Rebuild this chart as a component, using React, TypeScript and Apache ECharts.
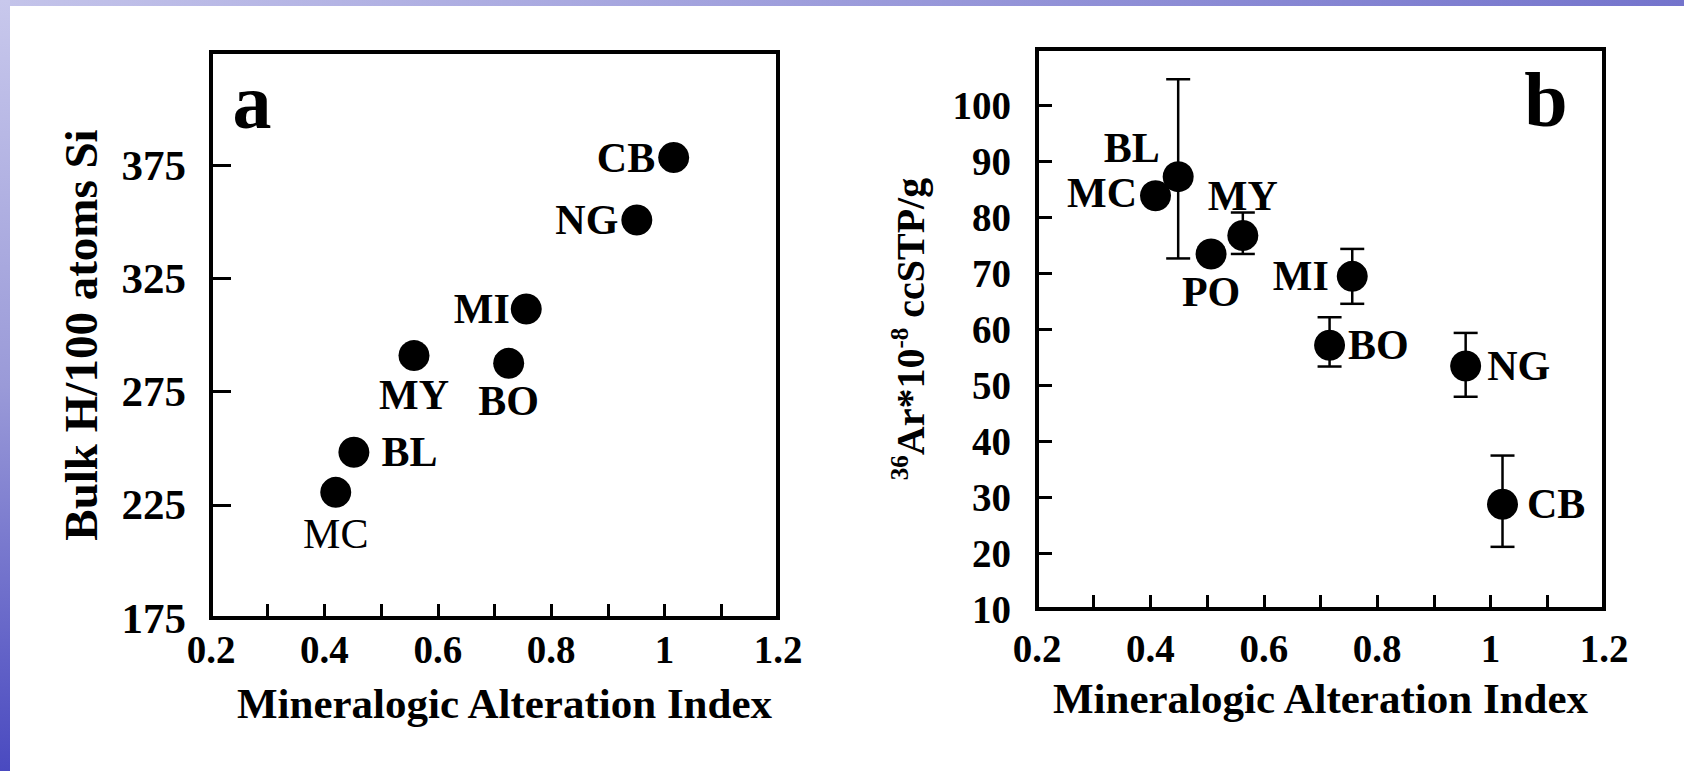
import React, { useEffect, useRef } from "react";
import * as echarts from "echarts";

// ---- Panel a data: Bulk H/100 atoms Si vs Mineralogic Alteration Index
const samplesA = ["MC", "BL", "MY", "BO", "MI", "NG", "CB"];
const maiA = [0.42, 0.452, 0.558, 0.725, 0.756, 0.951, 1.016];
const bulkH = [230.5, 248.2, 290.9, 287.5, 311.5, 350.8, 378.4];

// ---- Panel b data: 36Ar*10^-8 ccSTP/g vs Mineralogic Alteration Index
const samplesB = ["MC", "BL", "PO", "MY", "MI", "BO", "NG", "CB"];
const maiB = [0.409, 0.449, 0.507, 0.563, 0.756, 0.716, 0.956, 1.021];
const ar36 = [83.8, 87.2, 73.4, 76.7, 69.4, 57.1, 53.4, 28.7];
const ar36Low = [null, 72.6, null, 73.4, 64.5, 53.3, 47.9, 21.1];
const ar36High = [null, 104.6, null, 80.8, 74.3, 62.1, 59.3, 37.4];

// ---- Tick labels
const xTickLabels = [0.2, 0.4, 0.6, 0.8, 1.0, 1.2];
const xTickMarks = [0.3, 0.4, 0.5, 0.6, 0.7, 0.8, 0.9, 1.0, 1.1];
const yTickLabelsA = [175, 225, 275, 325, 375];
const yTickMarksA = [225, 275, 325, 375];
const yTickLabelsB = [10, 20, 30, 40, 50, 60, 70, 80, 90, 100];
const yTickMarksB = [20, 30, 40, 50, 60, 70, 80, 90, 100];

const FONT = '"Liberation Serif", "Times New Roman", serif';

const labelStyleA: Record<string, any> = {
  MC: { position: "bottom", distance: 5, fontWeight: "normal" },
  BL: { position: "right", distance: 12 },
  MY: { position: "bottom", distance: 3 },
  BO: { position: "bottom", distance: 1 },
  MI: { position: "left", distance: 1 },
  NG: { position: "left", distance: 3 },
  CB: { position: "left", distance: 3 },
};

const labelStyleB: Record<string, any> = {
  MC: { position: "left", distance: 3, offset: [0, -3] },
  BL: { position: "left", distance: 3, offset: [0, -29] },
  PO: { position: "bottom", distance: 2 },
  MY: { position: "top", distance: 3 },
  MI: { position: "left", distance: 8 },
  BO: { position: "right", distance: 3 },
  NG: { position: "right", distance: 6 },
  CB: { position: "right", distance: 9 },
};

const fmtX = (v: number) => String(+(+v).toFixed(1));

export default function App() {
  const ref = useRef<HTMLDivElement>(null);

  useEffect(() => {
    if (!ref.current) return;
    const chart = echarts.init(ref.current, undefined, { renderer: "svg" });

    const axisCommon = {
      axisLine: { show: false },
      splitLine: { show: false },
    };

    const xAxisBase = (
      gridIndex: number,
      nameGap: number,
      labelMargin: number,
      namePad: number[]
    ) => ({
      type: "value",
      gridIndex,
      min: 0.2,
      max: 1.2,
      ...axisCommon,
      axisTick: {
        show: true,
        inside: true,
        length: 14,
        customValues: xTickMarks,
        lineStyle: { color: "#000", width: 3 },
      },
      axisLabel: {
        customValues: xTickLabels,
        formatter: fmtX,
        margin: labelMargin,
        color: "#000",
        fontFamily: FONT,
        fontWeight: "bold",
        fontSize: 39,
      },
      name: "Mineralogic Alteration Index",
      nameLocation: "middle",
      nameGap,
      nameTextStyle: {
        color: "#000",
        fontFamily: FONT,
        fontWeight: "bold",
        fontSize: 43,
        padding: namePad,
      },
    });

    const pointsA = samplesA.map((s, i) => ({
      name: s,
      value: [maiA[i], bulkH[i]],
      label: { ...labelStyleA[s] },
    }));
    const pointsB = samplesB.map((s, i) => ({
      name: s,
      value: [maiB[i], ar36[i]],
      label: { ...labelStyleB[s] },
    }));
    const errB = samplesB
      .map((s, i) => [maiB[i], ar36Low[i], ar36High[i]])
      .filter((d) => d[1] !== null && d[2] !== null);

    const pointLabel = {
      show: true,
      formatter: "{b}",
      color: "#000",
      fontFamily: FONT,
      fontWeight: "bold",
      fontSize: 42,
    };

    const option: any = {
      animation: false,
      backgroundColor: "#ffffff",
      graphic: [
        {
          type: "rect",
          shape: { x: 0, y: 0, width: 1684, height: 6 },
          style: {
            fill: new echarts.graphic.LinearGradient(0, 0, 1, 0, [
              { offset: 0, color: "#c4c4ea" },
              { offset: 1, color: "#7474cc" },
            ]),
          },
          z: 0,
        },
        {
          type: "rect",
          shape: { x: 0, y: 0, width: 10, height: 771 },
          style: {
            fill: new echarts.graphic.LinearGradient(0, 0, 0, 1, [
              { offset: 0, color: "#c8c8ec" },
              { offset: 0.5, color: "#9a9ad8" },
              { offset: 1, color: "#4a4ac0" },
            ]),
          },
          z: 0,
        },
        {
          type: "text",
          x: 252,
          y: 101,
          style: {
            text: "a",
            fill: "#000",
            fontFamily: FONT,
            fontWeight: "bold",
            fontSize: 78,
            align: "center",
            verticalAlign: "middle",
          },
        },
        {
          type: "text",
          x: 1546,
          y: 99,
          style: {
            text: "b",
            fill: "#000",
            fontFamily: FONT,
            fontWeight: "bold",
            fontSize: 78,
            align: "center",
            verticalAlign: "middle",
          },
        },
      ],
      grid: [
        {
          left: 211,
          top: 52,
          width: 567,
          height: 566,
          show: true,
          borderColor: "#000",
          borderWidth: 4,
          backgroundColor: "transparent",
          containLabel: false,
        },
        {
          left: 1037,
          top: 49,
          width: 567,
          height: 560,
          show: true,
          borderColor: "#000",
          borderWidth: 4,
          backgroundColor: "transparent",
          containLabel: false,
        },
      ],
      xAxis: [
        xAxisBase(0, 64, 12, [0, 0, 0, 20]),
        xAxisBase(1, 68, 20, [0, 0, 0, 0]),
      ],
      yAxis: [
        {
          type: "value",
          gridIndex: 0,
          min: 175,
          max: 425,
          ...axisCommon,
          axisTick: {
            show: true,
            inside: true,
            length: 20,
            customValues: yTickMarksA,
            lineStyle: { color: "#000", width: 3 },
          },
          axisLabel: {
            customValues: yTickLabelsA,
            margin: 25,
            color: "#000",
            fontFamily: FONT,
            fontWeight: "bold",
            fontSize: 43,
          },
          name: "Bulk H/100 atoms Si",
          nameLocation: "middle",
          nameRotate: 90,
          nameGap: 107,
          nameTextStyle: {
            color: "#000",
            fontFamily: FONT,
            fontWeight: "bold",
            fontSize: 47,
          },
        },
        {
          type: "value",
          gridIndex: 1,
          min: 10,
          max: 110,
          ...axisCommon,
          axisTick: {
            show: true,
            inside: true,
            length: 15,
            customValues: yTickMarksB,
            lineStyle: { color: "#000", width: 3 },
          },
          axisLabel: {
            customValues: yTickLabelsB,
            margin: 26,
            color: "#000",
            fontFamily: FONT,
            fontWeight: "bold",
            fontSize: 39,
          },
          name: "{sup|36}{m|Ar*10}{sup|-8}{m| ccSTP/g}",
          nameLocation: "middle",
          nameRotate: 90,
          nameGap: 104,
          nameTextStyle: {
            color: "#000",
            fontFamily: FONT,
            fontWeight: "bold",
            fontSize: 40,
            rich: {
              m: {
                color: "#000",
                fontFamily: FONT,
                fontWeight: "bold",
                fontSize: 40,
                lineHeight: 46,
              },
              sup: {
                color: "#000",
                fontFamily: FONT,
                fontWeight: "bold",
                fontSize: 25,
                lineHeight: 46,
                verticalAlign: "top",
              },
            },
          },
        },
      ],
      series: [
        {
          type: "scatter",
          xAxisIndex: 0,
          yAxisIndex: 0,
          symbol: "circle",
          symbolSize: 31,
          itemStyle: { color: "#000", opacity: 1 },
          label: pointLabel,
          data: pointsA,
          z: 3,
        },
        {
          type: "custom",
          xAxisIndex: 1,
          yAxisIndex: 1,
          data: errB,
          encode: { x: 0, y: [1, 2] },
          renderItem: (params: any, api: any) => {
            const x = api.value(0);
            const lo = api.coord([x, api.value(1)]);
            const hi = api.coord([x, api.value(2)]);
            const cap = 12;
            const st = { stroke: "#000", lineWidth: 2.5 };
            return {
              type: "group",
              children: [
                { type: "line", shape: { x1: lo[0], y1: lo[1], x2: hi[0], y2: hi[1] }, style: st },
                { type: "line", shape: { x1: lo[0] - cap, y1: lo[1], x2: lo[0] + cap, y2: lo[1] }, style: st },
                { type: "line", shape: { x1: hi[0] - cap, y1: hi[1], x2: hi[0] + cap, y2: hi[1] }, style: st },
              ],
            };
          },
          z: 2,
        },
        {
          type: "scatter",
          xAxisIndex: 1,
          yAxisIndex: 1,
          symbol: "circle",
          symbolSize: 31,
          itemStyle: { color: "#000", opacity: 1 },
          label: pointLabel,
          data: pointsB,
          z: 3,
        },
      ],
    };

    chart.setOption(option);
    return () => chart.dispose();
  }, []);

  return (
    <div
      ref={ref}
      style={{ position: "fixed", left: 0, top: 0, width: 1684, height: 771 }}
    />
  );
}
